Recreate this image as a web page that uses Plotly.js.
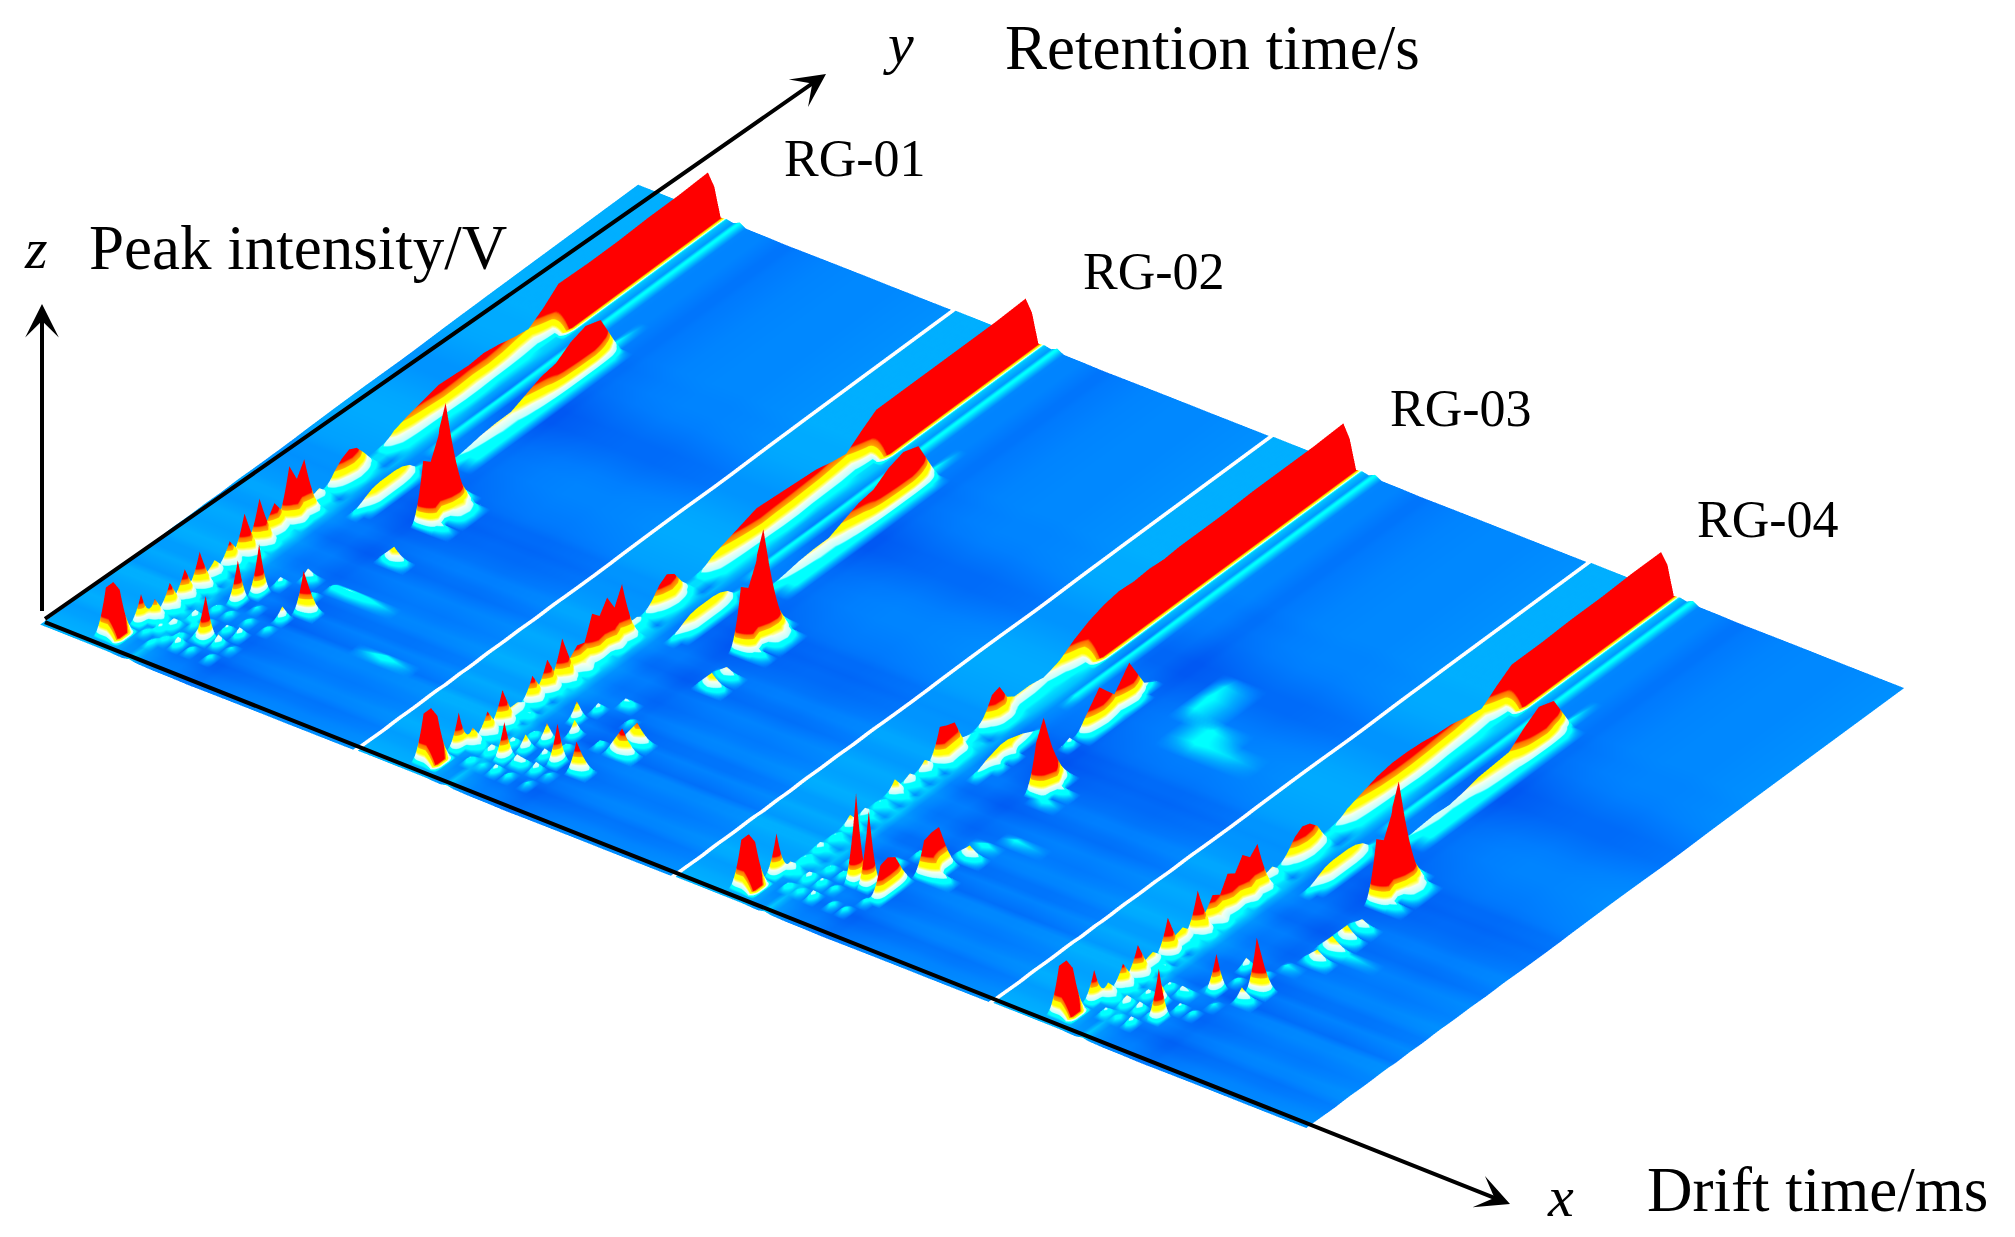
<!DOCTYPE html>
<html>
<head>
<meta charset="utf-8">
<script src="https://cdn.plot.ly/plotly-3.0.1.min.js"></script>
<style>html,body{margin:0;padding:0;background:#fff}#chart{width:2015px;height:1237px}</style>
</head>
<body>
<div id="chart"></div>
<script>
// grid: drift time and retention time, as fractions of one sample strip
var driftGrid = [0,.02,.04,.06,.08,.1,.12,.14,.16,.18,.2,.22,.24,.26,.28,.3,.32,.34,.36,.38,.4,.42,.44,.46,.48,.5,.55,.6,.7,.8,.9,.985];
var retGrid = [0,.0125,.025,.0375,.05,.0625,.075,.0875,.1,.1125,.125,.1375,.15,.1625,.175,.1875,.2,.2125,.225,.2375,.25,.2625,.275,.2875,.3,.3125,.325,.3375,.35,.3625,.375,.3875,.4,.4125,.425,.4375,.45,.475,.5,.525,.55,.575,.6,.625,.65,.675,.7,.725,.75,.8,.85,.9,.95,1];

// background level read from the blue shades
var driftBase = [2,2,2,2,2,2,2,2,2,2,2,1.9,1.5,1.4,2.5,1.5,1.3,1.1,1,1,1,.9,.8,.7,.7,.8,.9,1,1.1,1.1,1.2,1.3];
var retBase = [.2,.1,0,-.2,-.3,0,.1,-.1,-.2,-.1,.1,.1,-.4,-.2,0,-.3,-.3,0,.1,-.1,-.2,-.1,0,-.2,-.4,-.3,-.1,-.1,-.3,-.4,-.5,-.5,-.6,-.5,-.5,-.3,-.2,-.1,0,0,-.1,-.3,-.5,-.5,-.3,-.1,0,0,.1,.1,.1,.1,.1,.1];

var names = ["RG-01","RG-02","RG-03","RG-04"];

// main ridge, three columns across it, one value per retention row
var ridge1 = [0,0,0,0,0,0,18,6,22,8,24,8,29,8,14,6,20,10,33,12,36,14,24,14,44,30,41,8,10,4,14,20,23,20,12,3,3,12,16,19,22,21,20,21,19,16,14,22,32,31,31,32,32,33];
var side1  = [0,0,0,0,0,0,8,3,9,4,10,4,14,4,6,3,9,5,16,6,18,7,10,7,22,15,20,4,5,3,7,10,12,10,6,3,3,7,9,10,12,12,11,12,11,9,8,14,24,24,24,24,24,24];
var foot1  = [0,0,0,0,0,0,3,0,4,0,4,0,6,0,3,0,4,3,7,3,8,4,4,3,9,6,8,3,3,0,3,4,5,4,3,0,0,4,4,4,4,5,5,4,4,4,3,3,2,2,2,2,2,2];
var ridge2 = [0,0,0,0,0,0,16,6,20,8,28,10,10,6,22,10,26,12,34,14,20,18,36,30,40,28,42,8,8,4,12,20,24,20,10,3,3,12,16,20,24,23,22,21,20,17,15,24,32,32,32,32,32,33];
var side2  = [0,0,0,0,0,0,7,3,9,4,13,5,5,3,10,5,12,6,16,7,10,9,18,15,20,14,21,4,4,3,6,10,13,10,5,3,3,7,9,11,13,12,12,11,10,9,8,15,24,24,24,24,24,24];
var ridge3 = [0,0,0,0,0,0,10,4,6,3,8,3,6,3,12,4,9,3,6,3,14,5,10,4,12,6,29,26,24,8,6,4,12,24,26,14,10,10,8,12,20,26,30,32,31,32,31,32,32,32,33,33,33,34];
var side3  = [0,0,0,0,0,0,5,2,4,2,4,2,4,2,6,2,4,2,4,2,7,3,5,2,6,3,14,13,12,4,3,2,6,12,13,7,5,5,4,6,11,24,24,24,24,24,24,24,24,24,24,24,24,24];
var foot3  = [0,0,0,0,0,0,3,0,3,0,3,0,3,0,3,0,3,0,3,0,4,0,3,0,3,0,6,5,5,3,3,0,3,5,5,4,3,3,3,3,4,2,2,2,2,2,2,2,2,2,2,2,2,2];
var ridge4 = [0,0,0,0,0,0,14,6,20,8,26,10,12,6,30,12,14,8,34,12,22,18,30,26,36,30,36,8,10,4,12,20,24,22,16,4,4,12,16,20,22,22,21,19,18,15,13,22,30,30,31,31,32,32];
var side4  = [0,0,0,0,0,0,7,3,9,4,12,5,5,3,14,6,6,4,16,6,10,9,14,12,18,14,18,4,5,3,6,10,12,11,8,3,3,7,9,11,12,12,11,10,9,8,7,14,24,24,24,24,24,24];

// first row where the ridge wall stays red to its foot
var redFrom = [48,48,41,48];

// peaks as [drift column, retention row, height]
var slabPeaks = [[8,2,38],[8,3,38],[9,2,34],[9,3,34],[10,2,3],[10,3,3],[11,2,2],[11,3,2]];
// low points on the slab wall that keep the red colour: [drift column, retention row, colour level]
var slabRed = [[10,2,20],[10,3,20]];
var yellowPeaks = [[17,28,6],[17,29,10],[17,30,13],[17,31,14],[17,32,14],[17,33,14],[17,34,13],[17,35,10],[17,36,4],[18,29,5],[18,30,8],[18,31,8],[18,32,8],[18,33,8],[18,34,7],[18,35,5]];
var bumpPeaks = [[20,37,4],[20,38,7],[20,39,9],[20,40,10],[20,41,10],[20,42,15],[20,43,20],[20,44,22],[20,45,30],[20,46,34],[20,47,30],[20,48,4],
 [21,38,4],[21,39,5],[21,40,6],[21,41,6],[21,42,8],[21,43,12],[21,44,20],[21,45,24],[21,46,26],[21,47,14],
 [22,38,4],[22,39,4],[22,40,4],[22,41,4],[22,42,4],[22,43,4],[22,44,4],[22,45,4],[22,46,4],[22,47,4]];
var bumpPeaks4 = [[20,37,5],[20,38,7],[20,39,8],[20,40,7],[20,41,9],[20,42,12],[20,43,13],[20,44,14],[20,45,24],[20,46,32],[20,47,28],[20,48,4],
 [21,38,4],[21,39,5],[21,40,5],[21,41,5],[21,42,7],[21,43,8],[21,44,9],[21,45,16],[21,46,20],[21,47,10],
 [22,38,4],[22,39,4],[22,40,4],[22,41,4],[22,42,4],[22,43,4],[22,44,4],[22,45,4],[22,46,4],[22,47,4]];
var spikePeaks = [[25,30,50],[25,31,45],[25,32,60],[25,33,82],[25,34,30],[25,35,10],[24,33,60],[26,30,8],[26,32,10],[26,33,12],[26,34,8],[26,24,14]];
var peaks1 = [[10,5,24],[12,4,5],[13,5,7],[14,3,5],[14,6,9],[15,4,5],[15,8,9],[16,5,6],[16,7,5],[16,10,6],[17,4,9],[17,8,5],[18,6,10],[18,10,5],[19,4,5],[19,6,36],[20,8,7],[20,12,4],[21,6,10],[21,10,5],[22,4,5],[22,8,9],[23,6,4],[24,10,5],
 [17,12,34],[18,14,40],[19,16,8],[25,14,33],[24,12,12],[24,16,6],[21,18,10],[22,18,5],[25,18,5],[26,18,6],[27,18,5],[29,12,5]];
var peaks2 = [[10,5,30],[13,4,6],[14,6,9],[15,4,4],[15,8,8],[16,6,30],[16,10,6],[17,4,8],[17,8,14],[18,6,9],[18,10,16],[19,4,5],[19,6,8],[20,8,9],[20,12,14],[21,6,9],[21,10,6],[22,4,4],[22,8,32],[23,6,4],
 [18,14,16],[19,16,8],[25,8,24],[26,12,22],[26,14,18],[24,12,6],[24,16,5],[21,18,7],[22,18,5],[26,26,10]];
var peaks3 = [[10,5,34],[13,4,6],[14,6,8],[15,4,5],[15,8,6],[16,6,7],[16,10,5],[17,4,8],[17,8,6],[18,6,5],[18,10,8],[19,8,70],[20,4,5],[20,12,5],[21,8,60],[21,12,5],[22,4,5],[22,14,6],[23,6,5],
 [24,7,28],[24,8,30],[24,9,26],[24,10,12],[25,12,28],[25,13,30],[25,14,30],[26,16,12],[26,12,10],[26,18,5],[27,20,4],[28,38,4],[28,39,4],[29,38,3],[27,40,3.6],[27,41,4],[27,42,3.2],
 [17,26,6],[17,27,10],[17,28,12],[17,29,14],[17,30,14],[17,31,12],[17,32,10],[17,33,7],[17,34,4],[18,28,7],[18,30,8],
 [22,34,8],[22,36,14],[22,37,30],[22,38,16],[22,39,32],[22,40,8],[23,37,10],[23,39,10],[23,36,6],[23,38,6],
 [25,27,40],[25,28,55],[25,29,30],[25,30,12],[26,28,8],[26,26,5]];
var peaks4 = [[10,5,26],[13,4,7],[14,6,10],[15,4,5],[15,8,8],[16,6,9],[16,10,7],[17,4,8],[17,8,16],[18,6,6],[18,10,8],[19,6,40],[19,10,6],[20,8,7],[20,12,4],[21,12,30],[21,16,10],[22,14,5],[22,8,5],[23,10,4],
 [25,14,42],[25,12,12],[24,16,5],[25,18,4],[26,20,12],[26,22,14],[27,22,4],[26,26,10]];

var ridges = [ridge1,ridge2,ridge3,ridge4];
var sides = [side1,side2,side3,side4];
var feet = [foot1,foot1,foot3,foot1];
var peaks = [
  slabPeaks.concat(peaks1,yellowPeaks,bumpPeaks,spikePeaks),
  slabPeaks.concat(peaks2,yellowPeaks,bumpPeaks,spikePeaks),
  slabPeaks.concat(peaks3),
  slabPeaks.concat(peaks4,yellowPeaks,bumpPeaks4,spikePeaks)
];

// blue - cyan - white - yellow - orange - red, by height
var cmax = 21;
var colours = [[0,"#0050f0"],[1/21,"#0080ff"],[2/21,"#00aaff"],[3.6/21,"#00ffff"],[5.5/21,"#00ffff"],[6/21,"#bfffff"],[9/21,"#f5fff0"],[9.5/21,"#ffffa0"],[11/21,"#ffff00"],[14/21,"#ffff00"],[14.5/21,"#ffa500"],[17/21,"#ff7000"],[18/21,"#ff0000"],[1,"#ff0000"]];

function buildStrip(i) {
  var z = [], col = [];
  for (var r=0;r<retGrid.length;r++) {
    var row = [];
    for (var c=0;c<driftGrid.length;c++) row.push(driftBase[c]+retBase[r]);
    // narrow cyan line behind the main ridge
    if (r>=38) { row[16]=4; }
    if (ridges[i][r]) row[11]=ridges[i][r];
    if (sides[i][r]) row[12]=sides[i][r];
    if (feet[i][r]) row[13]=feet[i][r];
    z.push(row);
  }
  peaks[i].forEach(function(p){ z[p[1]][p[0]]=p[2]; });
  for (r=0;r<retGrid.length;r++) {
    var cr = z[r].slice();
    if (r>=redFrom[i]) cr[13]=20;
    col.push(cr);
  }
  slabRed.forEach(function(p){ col[p[1]][p[0]]=p[2]; });
  return {z:z,col:col};
}

var traces = [];
for (var i=0;i<4;i++) {
  var s = buildStrip(i);
  traces.push({
    type:"surface", name:names[i],
    x:driftGrid.map(function(a){return a+i;}), y:retGrid, z:s.z, surfacecolor:s.col,
    cmin:0, cmax:cmax, colorscale:colours, showscale:false, hoverinfo:"skip",
    lighting:{ambient:1,diffuse:0,specular:0,fresnel:0,roughness:1},
    contours:{x:{show:false},y:{show:false},z:{show:false}}
  });
}

var W=2015, H=1237;
function note(text,x,y,size) {
  return {text:text,xref:"paper",yref:"paper",x:x/W,y:1-y/H,xanchor:"left",yanchor:"middle",showarrow:false,
    font:{family:"Liberation Serif",size:size,color:"#000"}};
}
function arrow(tipX,tipY,tailX,tailY) {
  return {text:" ",xref:"paper",yref:"paper",x:tipX/W,y:1-tipY/H,ax:tailX-tipX,ay:tailY-tipY,
    showarrow:true,arrowhead:3,arrowsize:1.4,arrowwidth:4,arrowcolor:"#000",standoff:0};
}

var hide = {visible:false,showgrid:false,zeroline:false,showticklabels:false,showspikes:false};
var layout = {
  width:W, height:H, margin:{l:0,r:0,t:0,b:0}, paper_bgcolor:"#fff", showlegend:false,
  scene:{
    domain:{x:[0,.967],y:[.038,1]},
    bgcolor:"#fff",
    camera:{projection:{type:"orthographic"},eye:{x:.586,y:-.798,z:.636},up:{x:0,y:0,z:1},center:{x:0,y:0,z:0}},
    aspectmode:"manual", aspectratio:{x:2.65,y:1.698,z:.258},
    xaxis:Object.assign({range:[0,4]},hide),
    yaxis:Object.assign({range:[0,1]},hide),
    zaxis:Object.assign({range:[0,100]},hide)
  },
  annotations:[
    arrow(1510,1204,42,621), arrow(826,74,42,621), arrow(42,304,42,621),
    note("<i>z</i>",22,248,58), note("Peak intensity/V",87,248,63),
    note("<i>y</i>",881,44,58), note("Retention time/s",1003,48,63),
    note("<i>x</i>",1545,1196,58), note("Drift time/ms",1645,1190,63),
    note("RG-01",782,158,52), note("RG-02",1081,272,52), note("RG-03",1388,408,52), note("RG-04",1695,519,52)
  ]
};
Plotly.newPlot("chart",traces,layout,{displayModeBar:false});
</script>
</body>
</html>
